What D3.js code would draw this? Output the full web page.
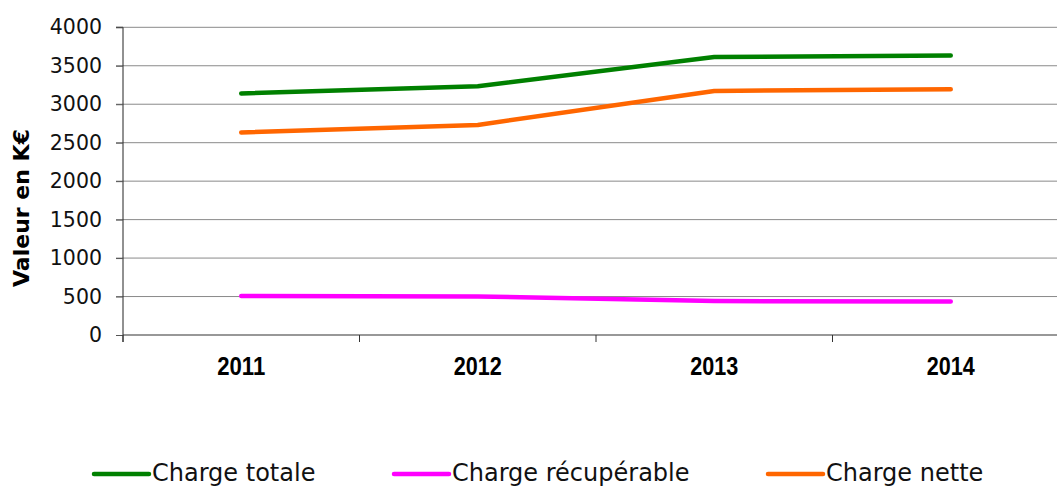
<!DOCTYPE html>
<html>
<head>
<meta charset="utf-8">
<script src="https://cdn.jsdelivr.net/npm/d3@7/dist/d3.min.js"></script>
<style>
  html, body { margin: 0; padding: 0; background: #fff; }
  svg { display: block; }
</style>
</head>
<body>
<svg id="chart" width="1057" height="487"></svg>
<script>
// Charges by year, in thousands of euros
const years = ["2011", "2012", "2013", "2014"];
const chargeTotale = [3141, 3233, 3613, 3633];
const chargeRecuperable = [507, 502, 441, 437];
const chargeNette = [2634, 2731, 3172, 3196];
const yTicks = [0, 500, 1000, 1500, 2000, 2500, 3000, 3500, 4000];

const series = [
  { name: "Charge totale", values: chargeTotale, color: "#008000" },
  { name: "Charge récupérable", values: chargeRecuperable, color: "#ff00ff" },
  { name: "Charge nette", values: chargeNette, color: "#ff6600" }
];

const svg = d3.select("#chart");
const plot = { left: 123, right: 1069, top: 27.3, bottom: 335 };

const x = d3.scaleBand().domain(years).range([plot.left, plot.right]);
const y = d3.scaleLinear().domain([0, 4000]).range([plot.bottom, plot.top]);

// horizontal gridlines
svg.append("g")
  .selectAll("line")
  .data(yTicks.filter(d => d > 0))
  .join("line")
  .attr("x1", plot.left - 7)
  .attr("x2", plot.right)
  .attr("y1", d => y(d))
  .attr("y2", d => y(d))
  .attr("stroke", "#8a8a8a")
  .attr("stroke-width", 1);

// y axis
const yAxis = d3.axisLeft(y).tickValues(yTicks).tickFormat(d3.format("d")).tickSize(7).tickPadding(14);
svg.append("g")
  .attr("transform", `translate(${plot.left},0)`)
  .call(yAxis)
  .call(g => g.select(".domain").attr("stroke", "#222").attr("d", `M-7,${plot.top}H0V${plot.bottom + 7}`))
  .call(g => g.selectAll(".tick line").attr("stroke", "#555"))
  .call(g => g.selectAll(".tick text")
    .attr("font-family", "'DejaVu Sans', sans-serif")
    .attr("font-size", 20.5)
    .attr("fill", "#111"));

// x axis with ticks at category boundaries
const boundaries = years.map(d => x(d)).concat([plot.right]);
const xg = svg.append("g");
xg.append("line")
  .attr("x1", plot.left).attr("x2", plot.right)
  .attr("y1", plot.bottom).attr("y2", plot.bottom)
  .attr("stroke", "#333").attr("stroke-width", 1.2);
xg.selectAll("line.tk")
  .data(boundaries)
  .join("line")
  .attr("class", "tk")
  .attr("x1", d => d).attr("x2", d => d)
  .attr("y1", plot.bottom).attr("y2", plot.bottom + 7)
  .attr("stroke", "#333");
xg.selectAll("text")
  .data(years)
  .join("text")
  .attr("x", d => x(d) + x.bandwidth() / 2)
  .attr("y", 375)
  .attr("text-anchor", "middle")
  .attr("font-family", "'Liberation Sans', sans-serif")
  .attr("font-weight", "bold")
  .attr("font-size", 25)
  .attr("textLength", 48)
  .attr("lengthAdjust", "spacingAndGlyphs")
  .attr("fill", "#000")
  .text(d => d);

// y axis title
svg.append("text")
  .attr("transform", "translate(29,208) rotate(-90)")
  .attr("text-anchor", "middle")
  .attr("font-family", "'DejaVu Sans', sans-serif")
  .attr("font-weight", "bold")
  .attr("font-size", 22)
  .attr("fill", "#000")
  .text("Valeur en K€");

// series lines
const line = d3.line()
  .x((d, i) => x(years[i]) + x.bandwidth() / 2)
  .y(d => y(d));

svg.append("g")
  .selectAll("path")
  .data(series)
  .join("path")
  .attr("d", d => line(d.values))
  .attr("fill", "none")
  .attr("stroke", d => d.color)
  .attr("stroke-width", 4.5)
  .attr("stroke-linecap", "round")
  .attr("stroke-linejoin", "round");

// legend
const legendX = [94, 394, 768];
const lg = svg.append("g")
  .selectAll("g")
  .data(series)
  .join("g")
  .attr("transform", (d, i) => `translate(${legendX[i]},474)`);
lg.append("line")
  .attr("x1", 0).attr("x2", 55)
  .attr("y1", 0).attr("y2", 0)
  .attr("stroke", d => d.color)
  .attr("stroke-width", 4.5)
  .attr("stroke-linecap", "round");
lg.append("text")
  .attr("x", 58)
  .attr("y", 7)
  .attr("font-family", "'DejaVu Sans', sans-serif")
  .attr("font-size", 24)
  .attr("fill", "#111")
  .text(d => d.name);
</script>
</body>
</html>
